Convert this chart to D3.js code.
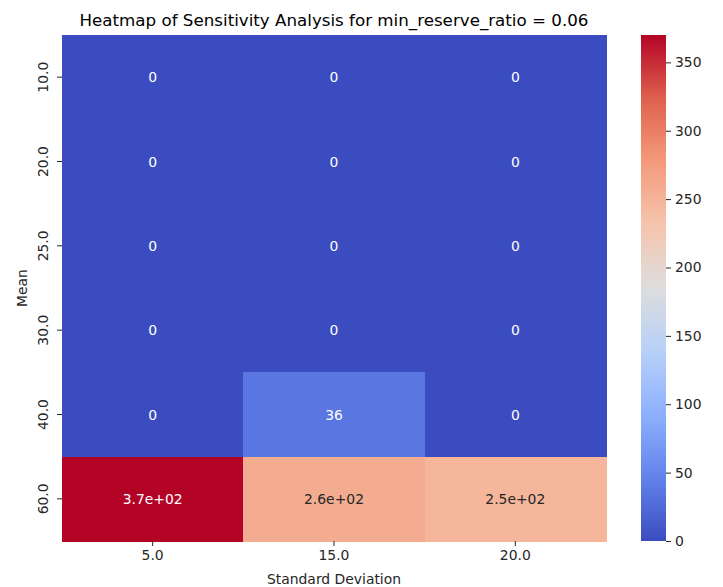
<!DOCTYPE html>
<html><head><meta charset="utf-8">
<script src="https://cdn.jsdelivr.net/npm/d3@7"></script>
<style>body{margin:0;background:#fff;} svg{display:block;font-family:"DejaVu Sans",sans-serif;}</style>
</head><body>
<svg id="c" width="723" height="587"></svg>
<script>
const stdDevs = ["5.0", "15.0", "20.0"];
const means = ["10.0", "20.0", "25.0", "30.0", "40.0", "60.0"];
// values per mean row, columns = stdDevs
const row10 = [0, 0, 0];
const row20 = [0, 0, 0];
const row25 = [0, 0, 0];
const row30 = [0, 0, 0];
const row40 = [0, 36, 0];
const row60 = [370, 258, 247];
const rows = [row10, row20, row25, row30, row40, row60];
const cbarTicks = [0, 50, 100, 150, 200, 250, 300, 350];
const titleText = "Heatmap of Sensitivity Analysis for min_reserve_ratio = 0.06";

// matplotlib coolwarm stops
const cwStops = ["#3b4cc0","#6282ea","#8db0fe","#b8d0f9","#dddddd","#f5c4ad","#f49a7b","#de604d","#b40426"];

const svg = d3.select("#c");
const L = 62, R = 606, T = 35, B = 541;
const vmin = 0, vmax = d3.max(rows.flat());

const x = d3.scaleBand().domain(stdDevs).range([L, R]).padding(0);
const y = d3.scaleBand().domain(means).range([T, B]).padding(0);
const norm = d3.scaleLinear().domain([vmin, vmax]).range([0, 1]).clamp(true);
const cw = d3.scaleLinear().domain(d3.range(cwStops.length).map(i => i/(cwStops.length-1))).range(cwStops).interpolate(d3.interpolateRgb);
const color = v => cw(norm(v));

function fmt2g(v){
  if (v === 0) return "0";
  const e = Math.floor(Math.log10(Math.abs(v)));
  if (e < -4 || e >= 2) {
    let s = v.toExponential(1);
    let [m, ex] = s.split("e");
    let sign = ex[0] === "-" ? "-" : "+";
    let d = ex.replace(/[+-]/, "");
    if (d.length < 2) d = "0" + d;
    return m + "e" + sign + d;
  }
  return String(+v.toPrecision(2));
}
function lum(c){
  const r = d3.rgb(c);
  const f = u => { u/=255; return u <= 0.03928 ? u/12.92 : Math.pow((u+0.055)/1.055, 2.4); };
  return 0.2126*f(r.r)+0.7152*f(r.g)+0.0722*f(r.b);
}

const cells = [];
rows.forEach((r, i) => r.forEach((v, j) => cells.push({m: means[i], s: stdDevs[j], v})));

svg.append("g").attr("shape-rendering", "crispEdges").selectAll("rect").data(cells).join("rect")
  .attr("x", d => x(d.s)).attr("y", d => y(d.m))
  .attr("width", x.bandwidth() + 0.5).attr("height", y.bandwidth() + 0.5)
  .attr("fill", d => color(d.v));

svg.append("g").selectAll("text").data(cells).join("text")
  .attr("x", d => x(d.s) + x.bandwidth()/2)
  .attr("y", d => y(d.m) + y.bandwidth()/2)
  .attr("dy", "0.36em").attr("text-anchor", "middle")
  .attr("font-size", "13.9px")
  .attr("fill", d => lum(color(d.v)) > 0.408 ? "#262626" : "#ffffff")
  .text(d => fmt2g(d.v));

// axes
const xAxis = svg.append("g").attr("transform", `translate(0,${B})`)
  .call(d3.axisBottom(x).tickSize(5).tickPadding(4));
const yAxis = svg.append("g").attr("transform", `translate(${L},0)`)
  .call(d3.axisLeft(y).tickSize(5).tickPadding(4));
[xAxis, yAxis].forEach(g => {
  g.select(".domain").remove();
  g.selectAll(".tick line").attr("stroke", "#262626").attr("stroke-width", 1);
  g.selectAll(".tick text").attr("fill", "#262626").attr("font-size", "13.9px").attr("font-family", "DejaVu Sans, sans-serif");
});
yAxis.selectAll(".tick text").each(function(){
  d3.select(this).attr("text-anchor", "middle")
    .attr("transform", "translate(-19,0) rotate(-90)").attr("x", 0).attr("y", 0).attr("dy", "0.36em");
});

svg.append("text").attr("x", (L+R)/2).attr("y", 584).attr("text-anchor", "middle")
  .attr("font-size", "13.9px").attr("fill", "#262626").text("Standard Deviation");
svg.append("text").attr("transform", `translate(22,${(T+B)/2}) rotate(-90)`).attr("text-anchor", "middle")
  .attr("dy", "0.36em")
  .attr("font-size", "13.9px").attr("fill", "#262626").text("Mean");
svg.append("text").attr("x", (L+R)/2).attr("y", 26).attr("text-anchor", "middle")
  .attr("font-size", "16.7px").attr("fill", "#000").text(titleText);

// colorbar
const CX = 641, CW = 25;
const cy = d3.scaleLinear().domain([vmin, vmax]).range([B, T]);
const defs = svg.append("defs");
const grad = defs.append("linearGradient").attr("id", "cbg").attr("x1", 0).attr("y1", 1).attr("x2", 0).attr("y2", 0);
d3.range(0, 1.0001, 0.03125).forEach(t => grad.append("stop").attr("offset", t).attr("stop-color", cw(t)));
svg.append("rect").attr("x", CX).attr("y", T).attr("width", CW).attr("height", B - T).attr("fill", "url(#cbg)");
const cAxis = svg.append("g").attr("transform", `translate(${CX + CW},0)`)
  .call(d3.axisRight(cy).tickValues(cbarTicks).tickSize(5).tickPadding(4).tickFormat(d3.format("d")));
cAxis.select(".domain").remove();
cAxis.selectAll(".tick line").attr("stroke", "#262626");
cAxis.selectAll(".tick text").attr("fill", "#262626").attr("font-size", "13.9px").attr("font-family", "DejaVu Sans, sans-serif");
</script>
</body></html>
